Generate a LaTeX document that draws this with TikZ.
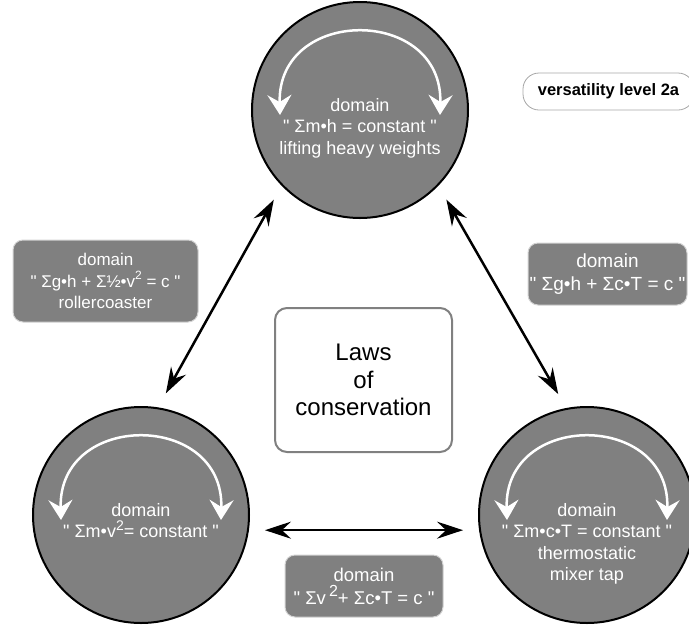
\documentclass[tikz,border=0pt]{standalone}
\usepackage{fontspec}
\setmainfont{Liberation Sans}[Ligatures=TeXOff]
\usetikzlibrary{arrows.meta}
\definecolor{dgray}{HTML}{808080}
\newcommand\supa[1]{\raisebox{0.42em}{\fontsize{#1}{#1}\selectfont 2}}
\begin{document}
\begin{tikzpicture}[x=1pt,y=-1pt,
  dom/.style={circle, draw=black, line width=2pt, fill=dgray, minimum size=216pt, inner sep=0pt},
  domtext/.style={text=white, font=\fontsize{18}{21.5}\selectfont, align=center, anchor=north, inner sep=0pt},
  lab/.style={rounded corners=10pt, fill=dgray, draw=gray!35, line width=1pt, text=white, align=center, inner sep=0pt},
  loopar/.style={draw=white, line width=2.5pt, {Stealth[length=20pt,width=24pt,inset=7pt]}-{Stealth[length=20pt,width=24pt,inset=7pt]}},
  link/.style={draw=black, line width=2.5pt, {Stealth[length=26pt,width=17pt,inset=9pt]}-{Stealth[length=26pt,width=17pt,inset=9pt]}, shorten <=16pt, shorten >=16pt}
]
\useasboundingbox (0,0) rectangle (689,625);

\node[dom] (top) at (360,110) {};
\node[dom] (lft) at (141,515) {};
\node[dom] (rgt) at (587,515) {};

\foreach \n in {top,lft,rgt}{
  \draw[loopar] ([shift={(-80,5)}]\n.center) .. controls ([shift={(-83,-104)}]\n.center) and ([shift={(83,-104)}]\n.center) .. ([shift={(80,5)}]\n.center);
}

\node[domtext] (toptxt) at (360,98) {domain\\" Σm•h = constant "\\lifting heavy weights};
\node[domtext] (lfttxt) at (141,503) {domain\\" Σm•v\supa{14}= constant "};
\node[domtext] (rgttxt) at (587,503) {domain\\" Σm•c•T = constant "\\thermostatic\\mixer tap};

\node[lab, font=\fontsize{17}{21.5}\selectfont, minimum width=185pt, minimum height=82pt] (l1) at (105.5,281) {domain\\" Σg•h + Σ½•v\supa{12} = c "\\rollercoaster};
\node[lab, font=\fontsize{19}{23.5}\selectfont, minimum width=159pt, minimum height=62pt] (l2) at (607.5,274) {domain\\" Σg•h + Σc•T = c "};
\node[lab, font=\fontsize{18.5}{23}\selectfont, minimum width=158pt, minimum height=62pt] (l3) at (364,586) {domain\\" Σv\,\supa{16}+ Σc•T = c "};

\node[draw=dgray, line width=2pt, fill=white, rounded corners=12pt, minimum width=177pt, minimum height=144pt, font=\fontsize{24}{27.5}\selectfont, align=center] (laws) at (363.5,380) {Laws\\of\\conservation};

\node[draw=gray!70, line width=0.8pt, rounded corners=16pt, minimum width=171pt, minimum height=37pt, font=\bfseries\fontsize{16.5}{16.5}\selectfont] (vers) at (608.5,91.5) {versatility level 2a};

\draw[link] (top.224) -- (lft.81);
\draw[link] (top.316) -- (rgt.101);
\draw[link] (lft.352) -- (rgt.188);
\end{tikzpicture}
\end{document}
